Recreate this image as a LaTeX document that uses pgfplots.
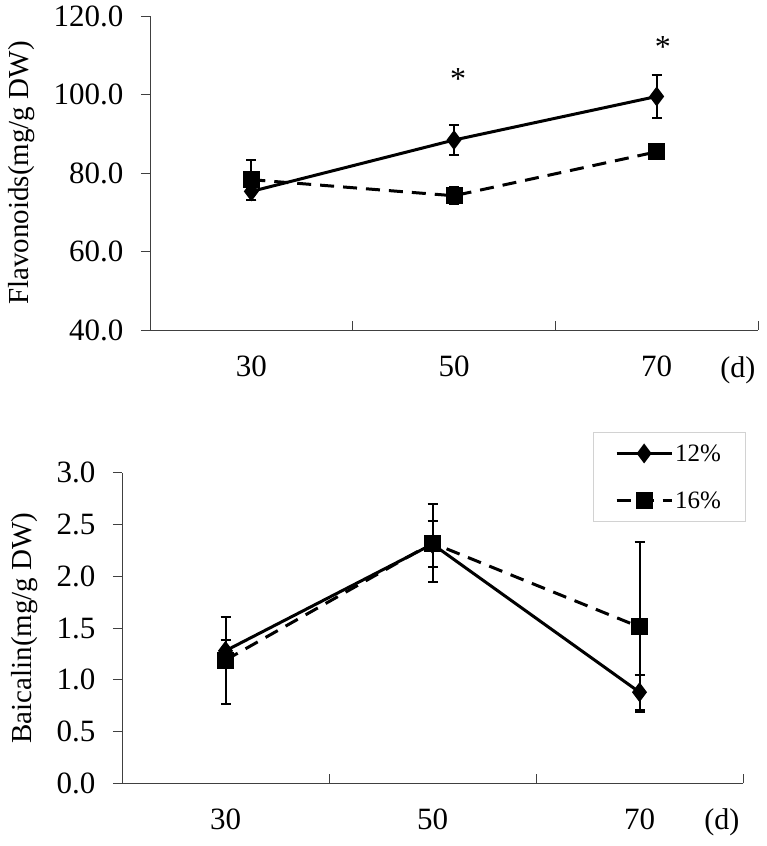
\documentclass[border=0pt]{standalone}
\usepackage{fontspec}
\setmainfont{Liberation Serif}
\usepackage{pgfplots}
\pgfplotsset{compat=1.18}

\pgfplotstableread{
x  y     e
1  75.3  2.2
2  88.4  3.8
3  99.5  5.5
}\flavA
\pgfplotstableread{
x  y     e
1  78.3  5.1
2  74.2  2.2
3  85.4  1.0
}\flavB
\pgfplotstableread{
x  y     e
1  1.28  0.10
2  2.31  0.22
3  0.88  0.17
}\baicA
\pgfplotstableread{
x  y     e
1  1.19  0.42
2  2.32  0.38
3  1.51  0.82
}\baicB

\pgfplotsset{
  excel/.style={
    scale only axis,
    font=\fontsize{29}{34}\selectfont,
    axis x line*=bottom, axis y line*=left,
    axis line style={gray!50!black, line width=0.9pt},
    xmin=0.5, xmax=3.5,
    xtick={1,2,3}, xticklabels={30,50,70},
    minor xtick={1.5,2.5,3.5},
    major x tick style={draw=none},
    minor tick length=9pt,
    xtick align=inside,
    ytick align=outside,
    major tick length=9pt,
    every tick/.style={gray!50!black, line width=0.9pt},
    xticklabel style={yshift=-22pt, font=\fontsize{31}{36}\selectfont},
    yticklabel style={xshift=-14pt, font=\fontsize{31}{36}\selectfont,
      /pgf/number format/fixed, /pgf/number format/fixed zerofill, /pgf/number format/precision=1},
    /pgf/number format/assume math mode=true,
    ylabel style={yshift=12pt},
    clip=false,
  },
  s12/.style={black, line width=3pt, mark=diamond*, mark size=7.5pt,
    mark options={solid},
    error bars/.cd, y dir=both, y explicit,
    error bar style={line width=2pt, solid},
    error mark options={rotate=90, line width=2pt, mark size=5pt, solid}},
  s16/.style={black, line width=3pt, dash pattern=on 14pt off 9pt,
    mark=square*, mark size=7pt, mark options={solid},
    error bars/.cd, y dir=both, y explicit,
    error bar style={line width=2pt, solid},
    error mark options={rotate=90, line width=2pt, mark size=5pt, solid}},
}

\begin{document}
\begin{tikzpicture}
\path[use as bounding box] (0,0) rectangle (766pt,846pt);

\begin{axis}[excel,
  at={(150pt,516pt)}, anchor=south west,
  width=608pt, height=314pt,
  ymin=40, ymax=120, ytick={40,60,80,100,120},
  ylabel={Flavonoids(mg/g DW)},
]
\addplot[s12] table[x=x, y=y, y error=e] {\flavA};
\addplot[s16] table[x=x, y=y, y error=e] {\flavB};
\node[font=\fontsize{32}{36}\selectfont] at (axis cs:2.02,104) {*};
\node[font=\fontsize{32}{36}\selectfont] at (axis cs:3.03,112) {*};
\node[font=\fontsize{30}{36}\selectfont] at (rel axis cs:0.967,0) [yshift=-40pt] {(d)};
\end{axis}

\begin{axis}[excel,
  at={(122pt,62.7pt)}, anchor=south west,
  width=621pt, height=310.6pt,
  ymin=0, ymax=3, ytick={0,0.5,...,3},
  ylabel={Baicalin(mg/g DW)},
  legend style={at={(0.758,1.131)}, anchor=north west,
    draw=gray!35, line width=0.8pt, fill=white,
    font=\fontsize{25}{30}\selectfont,
    row sep=25pt, inner xsep=22pt, inner ysep=10pt},
  legend cell align=left,
  legend image code/.code={
    \draw[mark repeat=2, mark phase=2] plot coordinates {(0pt,0pt) (27.5pt,0pt) (55pt,0pt)};
  },
]
\addplot[s12] table[x=x, y=y, y error=e] {\baicA};
\addplot[s16] table[x=x, y=y, y error=e] {\baicB};
\legend{12\%, 16\%}
\node[font=\fontsize{30}{36}\selectfont] at (rel axis cs:0.966,0) [yshift=-39pt] {(d)};
\end{axis}
\end{tikzpicture}
\end{document}
